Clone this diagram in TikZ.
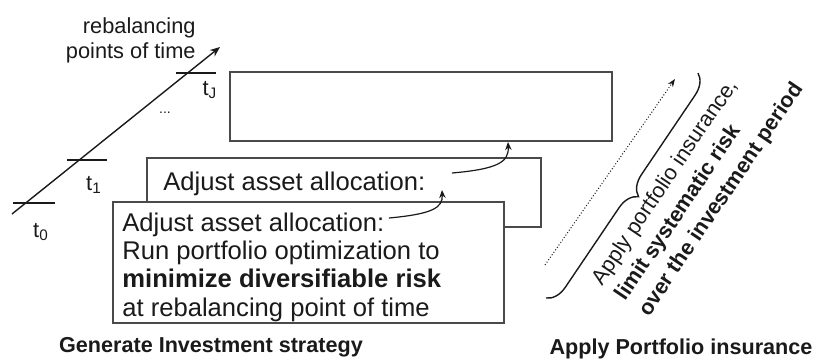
\documentclass[tikz,border=0pt]{standalone}
\usepackage{fontspec}
\setmainfont{Liberation Sans}
\usetikzlibrary{arrows.meta,decorations.pathreplacing}
\definecolor{linec}{HTML}{4A4A4A}
\definecolor{txtc}{HTML}{1A1A1A}
\tikzset{
  box/.style={draw=linec, line width=0.8pt, fill=white, inner sep=0pt},
  boxtext/.style={text=txtc, inner sep=0pt, font=\fontsize{12.8}{14.2}\selectfont, align=left},
  small/.style={text=txtc, inner sep=0pt, font=\fontsize{10.9}{12.5}\selectfont},
  heading/.style={text=txtc, inner sep=0pt, font=\fontsize{10.8}{12.5}\selectfont\bfseries},
  conn/.style={draw=txtc, line width=0.6pt, -{Stealth[length=4pt,width=3.2pt]}},
  tick/.style={draw=txtc, line width=0.7pt}
}
\begin{document}
\begin{tikzpicture}[x=0.5pt,y=-0.5pt]
\useasboundingbox (0,0) rectangle (816,360);
% time axis
\coordinate (ax0) at (12,214);
\coordinate (ax1) at (220,47);
\draw[line width=0.7pt, draw=txtc, -{Stealth[length=5pt,width=4pt]}] (ax0) -- (ax1);
\coordinate (k0a) at (13,203); \coordinate (k0b) at (55,203);
\coordinate (k1a) at (67,160); \coordinate (k1b) at (107,160);
\coordinate (kJa) at (176,73); \coordinate (kJb) at (216,73);
\draw[tick] (k0a) -- (k0b);
\draw[tick] (k1a) -- (k1b);
\draw[tick] (kJa) -- (kJb);
\node[small] (t0) at (41,232) {t\textsubscript{0}};
\node[small] (t1) at (94,185) {t\textsubscript{1}};
\node[small] (tJ) at (210,90) {t\textsubscript{J}};
\node[small, font=\fontsize{7}{8}\selectfont] (dots) at (165,113) {...};
\node[small, align=right, anchor=east] (axlab) at (196,40) {rebalancing\\points of time};
% boxes
\node[box, minimum width=191pt, minimum height=34.5pt] (b3) at (421,106.5) {};
\node[box, minimum width=197pt, minimum height=34.5pt] (b2) at (344,192.5) {};
\node[boxtext, anchor=west] (b2t) at (163,184) {Adjust asset allocation:};
\node[box, minimum width=195.5pt, minimum height=60.5pt] (b1) at (308.5,262.5) {};
\node[boxtext, anchor=west] (b1t) at (122,267) {Adjust asset allocation:\\Run portfolio optimization to\\\textbf{minimize diversifiable risk}\\at rebalancing point of time};
% curved arrows
\coordinate (c1s) at (389,218);
\coordinate (c1e) at (442,190);
\coordinate (c2s) at (452,173);
\coordinate (c2e) at (508,142);
\draw[conn] (c1s) .. controls (432,214) and (443,208) .. (c1e);
\draw[conn] (c2s) .. controls (498,169) and (509,162) .. (c2e);
% insurance
\coordinate (d0) at (545,265);
\coordinate (d1) at (675,79);
\draw[draw=txtc, line width=0.5pt, densely dotted, -{Stealth[length=4pt,width=3pt]}] (d0) -- (d1);
\coordinate (br0) at (698,73);
\coordinate (br1) at (546,298);
\draw[draw=txtc, line width=0.7pt, decorate, decoration={brace, amplitude=10pt}] (br0) -- (br1);
\node[boxtext, font=\fontsize{10.8}{14}\selectfont, rotate=56, anchor=west] (ins) at (621,299) {Apply portfolio insurance,\\\textbf{limit systematic risk}\\\textbf{over the investment period}};
% headings
\node[heading] (h1) at (211,347) {Generate Investment strategy};
\node[heading] (h2) at (681,349) {Apply Portfolio insurance};
\end{tikzpicture}
\end{document}
